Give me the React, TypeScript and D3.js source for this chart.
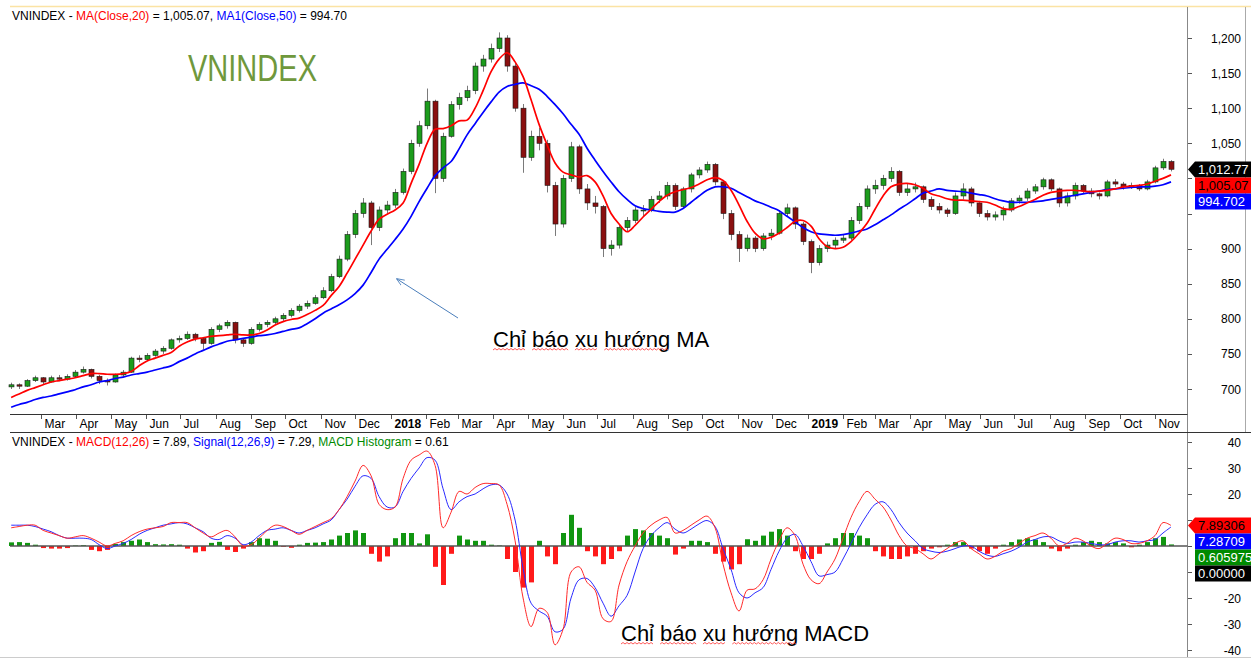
import React, { useRef, useEffect } from 'react';
import * as d3 from 'd3';

const WIDTH = 1251;
const HEIGHT = 667;

// weekly candles: [open, high, low, close]
const candles: [number, number, number, number][] = [
    [703, 709, 700, 706], [706, 708, 700, 704], [704, 714, 703, 712], [712, 719, 710, 716], [716, 717, 707, 710],
    [710, 719, 709, 716], [716, 720, 711, 714], [714, 721, 712, 718], [718, 727, 716, 724], [724, 732, 722, 728],
    [728, 729, 715, 718], [718, 720, 707, 712], [712, 715, 705, 710], [710, 722, 709, 720], [720, 727, 717, 724],
    [724, 746, 723, 744], [744, 748, 738, 742], [742, 751, 740, 748], [748, 757, 746, 754], [754, 761, 750, 758],
    [758, 772, 756, 770], [770, 776, 766, 772], [772, 782, 770, 778], [778, 780, 768, 772], [772, 774, 756, 765],
    [765, 788, 763, 785], [785, 793, 781, 790], [790, 798, 786, 795], [795, 796, 765, 770], [770, 772, 760, 765],
    [765, 788, 763, 785], [785, 795, 782, 792], [792, 798, 788, 795], [795, 803, 791, 800], [800, 808, 797, 805],
    [805, 815, 802, 812], [812, 821, 809, 818], [818, 826, 814, 822], [822, 834, 820, 830], [830, 845, 828, 840],
    [840, 864, 838, 860], [860, 890, 858, 885], [885, 925, 882, 920], [920, 955, 915, 950], [950, 972, 944, 965],
    [965, 968, 905, 930], [930, 960, 925, 955], [955, 968, 950, 962], [962, 985, 958, 980], [980, 1014, 977, 1010],
    [1010, 1055, 1006, 1050], [1050, 1082, 1045, 1075], [1075, 1128, 1070, 1110], [1110, 1112, 979, 1000], [1000, 1065, 995, 1060],
    [1060, 1110, 1058, 1105], [1105, 1122, 1098, 1115], [1115, 1132, 1110, 1125], [1125, 1165, 1120, 1160], [1160, 1176, 1152, 1170],
    [1170, 1192, 1165, 1185], [1185, 1208, 1180, 1200], [1200, 1204, 1152, 1160], [1160, 1165, 1095, 1100], [1100, 1106, 1008, 1030],
    [1030, 1068, 1025, 1060], [1060, 1072, 1040, 1050], [1050, 1055, 980, 990], [990, 995, 918, 935], [935, 1005, 930, 1000],
    [1000, 1052, 995, 1045], [1045, 1048, 978, 985], [985, 992, 955, 965], [965, 975, 950, 960], [960, 962, 888, 900],
    [900, 912, 890, 905], [905, 935, 900, 930], [930, 945, 925, 940], [940, 960, 936, 955], [955, 962, 946, 955],
    [955, 975, 952, 970], [970, 982, 965, 975], [975, 995, 970, 990], [990, 993, 955, 960], [960, 988, 958, 985],
    [985, 1008, 980, 1005], [1005, 1016, 1000, 1012], [1012, 1024, 1008, 1020], [1020, 1022, 990, 995], [995, 996, 942, 950],
    [950, 955, 912, 920], [920, 925, 881, 900], [900, 920, 896, 915], [915, 918, 895, 900], [900, 922, 897, 918],
    [918, 928, 912, 922], [922, 955, 920, 950], [950, 964, 945, 958], [958, 960, 928, 935], [935, 938, 905, 910],
    [910, 913, 865, 880], [880, 905, 876, 900], [900, 910, 895, 905], [905, 916, 900, 912], [912, 920, 908, 915],
    [915, 945, 912, 940], [940, 965, 935, 960], [960, 990, 956, 985], [985, 998, 978, 990], [990, 1005, 984, 1000],
    [1000, 1016, 995, 1010], [1010, 1012, 975, 980], [980, 992, 975, 985], [985, 994, 980, 988], [988, 990, 965, 970],
    [970, 974, 955, 960], [960, 965, 950, 955], [955, 958, 945, 950], [950, 980, 948, 975], [975, 993, 970, 985],
    [985, 988, 960, 965], [965, 968, 945, 950], [950, 955, 940, 945], [945, 953, 940, 948], [948, 960, 940, 955],
    [955, 972, 952, 968], [968, 976, 964, 972], [972, 986, 968, 982], [982, 992, 978, 988], [988, 1001, 984, 998],
    [998, 1000, 982, 985], [985, 987, 959, 965], [965, 980, 960, 975], [975, 994, 970, 990], [990, 992, 978, 982],
    [982, 986, 973, 978], [978, 980, 970, 975], [975, 998, 973, 995], [995, 999, 988, 992], [992, 995, 984, 988],
    [988, 994, 985, 990], [990, 992, 982, 985], [985, 998, 983, 995], [995, 1018, 993, 1015], [1015, 1028, 1012, 1024],
    [1024, 1026, 1010, 1013],
];

const ma20 = [
    688, 693, 698, 702, 706, 710, 712, 714, 716, 719,
    722, 722, 721, 721, 722, 725, 733, 740, 744, 748,
    752, 761, 767, 771, 773, 775, 776, 777, 778, 777,
    777, 779, 784, 791, 796, 799, 801, 806, 812, 819,
    833, 846, 865, 885, 905, 925, 942, 949, 955, 965,
    993, 1020, 1050, 1070, 1071, 1075, 1082, 1083, 1100, 1125,
    1152, 1170, 1179, 1166, 1145, 1112, 1077, 1048, 1022, 1009,
    1005, 1002, 1004, 995, 975, 950, 935, 924, 933, 945,
    956, 967, 976, 981, 984, 987, 992, 998, 1001, 997,
    983, 962, 939, 922, 914, 916, 922, 930, 939, 940,
    932, 914, 903, 900, 902, 910, 922, 936, 956, 975,
    988, 992, 993, 991, 986, 978, 975, 971, 969, 969,
    968, 967, 966, 962, 957, 956, 960, 965, 970, 976,
    980, 982, 983, 983, 982, 981, 982, 983, 985, 988,
    989, 990, 992, 996, 1000, 1005,
];

const ma50 = [
    674, 678, 681, 685, 688, 690, 693, 696, 699, 703,
    706, 710, 712, 715, 717, 720, 722, 724, 727, 730,
    733, 739, 744, 750, 755, 760, 764, 768, 770, 772,
    774, 776, 777, 779, 782, 785, 787, 793, 800, 808,
    814, 820, 827, 836, 848, 866, 885, 899, 913, 928,
    946, 967, 986, 1004, 1015, 1024, 1042, 1062, 1078, 1094,
    1109, 1123, 1131, 1134, 1136, 1132, 1127, 1117, 1105, 1092,
    1077, 1063, 1043, 1026, 1010, 995, 981, 970, 961, 957,
    955, 953, 952, 952, 957, 966, 975, 983, 988, 988,
    986, 980, 974, 968, 964, 959, 954, 946, 938, 930,
    924, 921, 920, 919, 920, 922, 925, 928, 934, 941,
    948, 956, 963, 971, 979, 982, 985, 983, 982, 981,
    979, 977, 975, 971, 968, 966, 966, 966, 967, 968,
    970, 972, 974, 976, 978, 980, 982, 984, 985, 986,
    987, 988, 988, 989, 991, 995,
];

const macd = [
    7, 7.5, 8, 8, 6, 5, 4, 3, 3.5, 4,
    3, 1.5, 0, 1, 2, 4, 5.5, 6.5, 7, 7.5,
    9, 9, 9, 7, 5, 3.5, 5, 6, 3.5, 0,
    0.5, 3, 6, 8, 7.5, 6, 4.5, 6, 7.5, 9,
    10.5, 14, 19, 25, 31, 27, 16, 14, 15, 26,
    33, 35, 36.5, 31, 7, 13, 21, 20, 22.5, 24,
    24, 23.5, 16, 2, -20, -31, -24, -25.5, -38, -32,
    -10, -8, -14, -17, -28, -29, -15, -6, 0, 5,
    8, 10, 11, 5, 6, 8, 10, 11.5, 7, -7,
    -18, -25, -17, -16.5, -13, -5, 2, 7, 4, -7,
    -13, -14.5, -10, -5, 3, 11, 17, 21, 18, 15,
    10, 4, 0, -1, -3, -5, -3, -1, 1, 2,
    -1, -3, -5, -4, -2, -1, 1, 3, 4, 5,
    3, 0, 1, 3, 2, 0, -1, 1, 3, 2.5,
    1, 1, 2, 4, 9, 7.9,
];

const signal = [
    8, 8, 8, 7.5, 6.5, 5.5, 4, 3, 3, 3,
    2.5, 0.5, -1, 0, 1, 2.5, 4.5, 6, 7, 8,
    8.5, 9, 8.5, 7, 5.5, 3, 2.5, 4, 3, 0.5,
    1.5, 4, 6, 6.5, 7, 6, 5, 6, 7, 8.5,
    10, 14, 18, 23, 27, 26, 19, 15, 15, 21,
    26, 30, 34, 33, 22, 14, 17, 19, 20, 22,
    23.5, 23.5, 20, 10, -8.6, -22, -25, -27, -33, -32,
    -20, -13, -12.5, -16, -22, -27, -23, -19, -10, -1,
    4, 7, 9, 6.5, 5, 6.5, 8.5, 9.8, 7.5, -1,
    -9, -18, -20, -18, -16, -9, -2, 3, 4.5, 0,
    -6, -11.5, -11, -10, -5, 1, 7, 12, 16, 17,
    14, 9, 5, 2, -1, -2, -2.5, -2, -1, 0,
    0, -2, -3.5, -4, -3, -2, -0.5, 1.5, 2.5, 3.5,
    3.5, 2, 1, 1.5, 1.5, 1, 0.5, 0.5, 1.5, 2,
    2, 1.5, 2, 2.5, 5, 7.3,
];

const histogram = [
    1.4, 1.5, 1.2, 0.5, -0.8, -1, -1, -0.8, 0.2, 0.3,
    -1.5, -2, -1.5, 0.8, 1.5, 2, 2.5, 1.5, 0.7, 0.6,
    0.7, 0.5, -1, -2.5, -2, 1.2, 1.6, -1.5, -2.3, -1,
    1.5, 3, 2.8, 2, -0.3, -0.7, 0.5, 1.2, 1.3, 1.5,
    2.5, 4, 5, 6, 5, -3, -6, -4, 3, 5,
    5, 1, 4.5, -8, -15, -3, 4, 2.5, 2, 2,
    0.5, 0.2, -5, -10, -16, -14, 2, -4, -7, 5,
    12, 7, -2, -4, -7, -5, -2, 4, 6.5, 6,
    5, 4, 3, -3.3, -1, 2, 2, 1.5, -3, -6,
    -9, -7, 2.6, 2, 4, 5.5, 6.5, 4, -2, -5,
    -5, -3, 1, 3, 5, 5, 4, 3, -2, -4,
    -5, -5, -4, -3, -2, -1, -0.5, 0.5, 1.5, 1.5,
    -1, -2, -3, -1, 0.5, 1.5, 2.5, 3, 2.5, 1.5,
    -1, -2, -1, 0.5, 1.5, 2, 1.5, 1, 1.5, 1,
    -0.5, 0.5, 1.5, 3, 3.5, 0.6,
];

const priceTicks = [700, 750, 800, 850, 900, 950, 1000, 1050, 1100, 1150, 1200];
const macdTicks = [-40, -30, -20, -10, 0, 10, 20, 30, 40];

// last values shown in the legends and the right-hand tags
const lastClose = 1012.77;
const lastMa20 = 1005.07;
const lastMa50 = 994.702;
const lastMacd = 7.89306;
const lastSignal = 7.28709;
const lastHist = 0.605975;

const FONT = '"Liberation Sans", Arial, sans-serif';

export default function App() {
    const svgRef = useRef<SVGSVGElement>(null);

    useEffect(() => {
        if (!svgRef.current) return;
        const svg = d3.select(svgRef.current);
        svg.selectAll('*').remove();

        const dates = d3.timeFriday.range(new Date(2017, 1, 3), new Date(2019, 10, 16)).slice(0, candles.length);
        const x = d3.scaleTime().domain([new Date(2017, 1, 2), new Date(2019, 10, 29)]).range([10, 1187]);
        const yP = d3.scaleLinear().domain([700, 1200]).range([389, 38]);
        const yM = d3.scaleLinear().domain([-40, 40]).range([650, 442]);
        const axisX = 1187.5;
        const tagH = 16;

        // frame
        svg.append('line').attr('x1', 10).attr('x2', WIDTH).attr('y1', 6.5).attr('y2', 6.5)
            .attr('stroke', '#fbe3a4').attr('stroke-width', 1.5);
        svg.append('line').attr('x1', axisX).attr('x2', axisX).attr('y1', 7).attr('y2', 657)
            .attr('stroke', '#888');
        svg.append('line').attr('x1', 1245.5).attr('x2', 1245.5).attr('y1', 7).attr('y2', 432)
            .attr('stroke', '#aaa');
        svg.append('line').attr('x1', 0).attr('x2', WIDTH).attr('y1', 657.5).attr('y2', 657.5)
            .attr('stroke', '#ccc');

        // legend of the price panel
        const f2 = d3.format(',.2f');
        const leg1 = svg.append('text').attr('x', 12).attr('y', 20).attr('font-size', 12);
        leg1.append('tspan').text('VNINDEX - ');
        leg1.append('tspan').attr('fill', '#ff0000').text('MA(Close,20)');
        leg1.append('tspan').text(` = ${f2(lastMa20)}, `);
        leg1.append('tspan').attr('fill', '#0000ff').text('MA1(Close,50)');
        leg1.append('tspan').text(` = ${f2(lastMa50)}`);

        svg.append('text').attr('x', 188).attr('y', 81).attr('font-size', 37)
            .attr('fill', '#6f983c').attr('textLength', 129).attr('lengthAdjust', 'spacingAndGlyphs')
            .text('VNINDEX');

        // price panel
        svg.append('clipPath').attr('id', 'clip-price')
            .append('rect').attr('x', 6).attr('y', 8).attr('width', 1181).attr('height', 406);
        const gp = svg.append('g').attr('clip-path', 'url(#clip-price)');
        const bw = 5;

        gp.selectAll('line.wick').data(candles).join('line')
            .attr('class', 'wick')
            .attr('x1', (_d, i) => Math.round(x(dates[i])) + 0.5)
            .attr('x2', (_d, i) => Math.round(x(dates[i])) + 0.5)
            .attr('y1', d => yP(d[1]))
            .attr('y2', d => yP(d[2]))
            .attr('stroke', '#7a7a7a');

        gp.selectAll('rect.body').data(candles).join('rect')
            .attr('class', 'body')
            .attr('x', (_d, i) => Math.round(x(dates[i])) - (bw - 1) / 2)
            .attr('y', d => yP(Math.max(d[0], d[3])))
            .attr('width', bw)
            .attr('height', d => Math.max(1, Math.abs(yP(d[0]) - yP(d[3]))))
            .attr('fill', d => (d[3] >= d[0] ? '#1c9c1c' : '#8a1010'))
            .attr('stroke', '#1a1a1a')
            .attr('stroke-width', 0.6);

        const priceLine = d3.line<number>()
            .x((_d, i) => x(dates[i]))
            .y(d => yP(d))
            .curve(d3.curveCatmullRom);

        gp.append('path').datum(ma50).attr('d', priceLine)
            .attr('fill', 'none').attr('stroke', '#0000ff').attr('stroke-width', 1.7);
        gp.append('path').datum(ma20).attr('d', priceLine)
            .attr('fill', 'none').attr('stroke', '#ff0000').attr('stroke-width', 1.7);

        // tags stack downwards from the last close / last MACD
        const yc0 = yP(lastClose);
        const ym0 = yM(lastMacd);
        const priceTagSpan: [number, number] = [yc0 - tagH / 2, yc0 + 2.5 * tagH];
        const macdTagSpan: [number, number] = [ym0 - tagH / 2, ym0 + 3.5 * tagH];
        const hidden = (yy: number, span: [number, number]) => yy + 5 > span[0] && yy - 5 < span[1];

        // right axis of the price panel
        const fInt = d3.format(',');
        priceTicks.forEach(t => {
            svg.append('line').attr('x1', 1188).attr('x2', 1192)
                .attr('y1', Math.round(yP(t)) + 0.5).attr('y2', Math.round(yP(t)) + 0.5).attr('stroke', '#555');
            if (hidden(yP(t), priceTagSpan)) return;
            svg.append('text').attr('x', 1241).attr('y', yP(t) + 4.5)
                .attr('text-anchor', 'end').attr('font-size', 12).text(fInt(t));
        });

        // month band
        svg.append('line').attr('x1', 10).attr('x2', axisX).attr('y1', 414.5).attr('y2', 414.5).attr('stroke', '#333');
        svg.append('line').attr('x1', 10).attr('x2', WIDTH).attr('y1', 432.5).attr('y2', 432.5).attr('stroke', '#333');
        const months = d3.timeMonth.range(x.domain()[0], x.domain()[1]).filter(m => x(m) < 1180);
        months.forEach(m => {
            const mx = Math.round(x(m)) + 0.5;
            svg.append('line').attr('x1', mx).attr('x2', mx).attr('y1', 415).attr('y2', 419).attr('stroke', '#555');
            const jan = m.getMonth() === 0;
            svg.append('text').attr('x', mx + 3).attr('y', 428).attr('font-size', 12)
                .attr('font-weight', jan ? 'bold' : 'normal')
                .text(jan ? d3.timeFormat('%Y')(m) : d3.timeFormat('%b')(m));
        });

        // MACD legend
        const leg2 = svg.append('text').attr('x', 12).attr('y', 446).attr('font-size', 12);
        leg2.append('tspan').text('VNINDEX - ');
        leg2.append('tspan').attr('fill', '#ff0000').text('MACD(12,26)');
        leg2.append('tspan').text(` = ${f2(lastMacd)}, `);
        leg2.append('tspan').attr('fill', '#0000ff').text('Signal(12,26,9)');
        leg2.append('tspan').text(` = ${f2(lastSignal)}, `);
        leg2.append('tspan').attr('fill', '#008a00').text('MACD Histogram');
        leg2.append('tspan').text(` = ${f2(lastHist)}`);

        // MACD panel
        const gm = svg.append('g');
        gm.selectAll('rect.hist').data(histogram).join('rect')
            .attr('class', 'hist')
            .attr('x', (_d, i) => Math.round(x(dates[i])) - 2)
            .attr('y', d => Math.min(yM(d), yM(0)))
            .attr('width', 5)
            .attr('height', d => Math.abs(yM(d) - yM(0)))
            .attr('fill', d => (d >= 0 ? '#119611' : '#ff1a1a'));

        gm.append('line').attr('x1', 10).attr('x2', axisX).attr('y1', yM(0)).attr('y2', yM(0))
            .attr('stroke', '#555').attr('stroke-width', 1.5);

        const macdLine = d3.line<number>()
            .x((_d, i) => x(dates[i]))
            .y(d => yM(d))
            .curve(d3.curveCatmullRom);
        gm.append('path').datum(signal).attr('d', macdLine)
            .attr('fill', 'none').attr('stroke', '#2a2aff').attr('stroke-width', 1);
        gm.append('path').datum(macd).attr('d', macdLine)
            .attr('fill', 'none').attr('stroke', '#ff2a2a').attr('stroke-width', 1);

        macdTicks.forEach(t => {
            svg.append('line').attr('x1', 1188).attr('x2', 1192)
                .attr('y1', Math.round(yM(t)) + 0.5).attr('y2', Math.round(yM(t)) + 0.5).attr('stroke', '#555');
            if (hidden(yM(t), macdTagSpan)) return;
            svg.append('text').attr('x', 1241).attr('y', yM(t) + 4.5)
                .attr('text-anchor', 'end').attr('font-size', 12).text(String(t));
        });

        // value tags on the right axis
        const tag = (yc: number, label: string, fill: string, color: string, arrow: boolean) => {
            const h = tagH / 2;
            const pts = arrow
                ? [[1188, yc], [1195, yc - h], [WIDTH, yc - h], [WIDTH, yc + h], [1195, yc + h]]
                : [[1195, yc - h], [WIDTH, yc - h], [WIDTH, yc + h], [1195, yc + h]];
            svg.append('polygon').attr('points', pts.map(p => p.join(',')).join(' ')).attr('fill', fill);
            svg.append('text').attr('x', 1198).attr('y', yc + 4.5).attr('font-size', 13)
                .attr('fill', color).text(label);
        };
        tag(yc0, f2(lastClose), '#000', '#fff', true);
        tag(yc0 + tagH, f2(lastMa20), '#ff0000', '#000', false);
        tag(yc0 + 2 * tagH, d3.format('.3f')(lastMa50), '#0000ff', '#fff', false);

        tag(ym0, d3.format('.5f')(lastMacd), '#ff0000', '#000', true);
        tag(ym0 + tagH, d3.format('.5f')(lastSignal), '#0000ff', '#fff', false);
        tag(ym0 + 2 * tagH, d3.format('.6f')(lastHist), '#008a00', '#fff', false);
        tag(ym0 + 3 * tagH, d3.format('.5f')(0), '#000', '#fff', false);

        // annotations with spell-check underlines
        const note = (tx: number, ty: number, words: string[], marked: number) => {
            const t = svg.append('text').attr('x', tx).attr('y', ty).attr('font-size', 22)
                .attr('fill', '#000').text(words.join(' '));
            const node = t.node() as SVGTextElement;
            let idx = 0;
            words.forEach((w, wi) => {
                if (wi < marked) {
                    const x0 = node.getStartPositionOfChar(idx).x;
                    const x1 = node.getEndPositionOfChar(idx + w.length - 1).x;
                    let d = `M${x0},${ty + 3}`;
                    let up = true;
                    for (let xx = x0 + 2; xx <= x1; xx += 2) {
                        d += `L${xx},${ty + (up ? 1.5 : 3)}`;
                        up = !up;
                    }
                    svg.append('path').attr('d', d).attr('fill', 'none')
                        .attr('stroke', '#ff3030').attr('stroke-width', 0.8);
                }
                idx += w.length + 1;
            });
        };
        note(493, 347, ['Chỉ', 'báo', 'xu', 'hướng', 'MA'], 4);
        note(621, 641, ['Chỉ', 'báo', 'xu', 'hướng', 'MACD'], 4);

        // pointer arrow
        const defs = svg.append('defs');
        defs.append('marker').attr('id', 'arr').attr('viewBox', '0 0 10 10')
            .attr('refX', 9).attr('refY', 5).attr('markerWidth', 8).attr('markerHeight', 8)
            .attr('orient', 'auto')
            .append('path').attr('d', 'M0,1 L10,5 L0,9').attr('fill', 'none').attr('stroke', '#4a7ebb');
        svg.append('line').attr('x1', 458).attr('y1', 318).attr('x2', 397).attr('y2', 279)
            .attr('stroke', '#4a7ebb').attr('stroke-width', 1).attr('marker-end', 'url(#arr)');
    }, []);

    return (
        <svg
            ref={svgRef}
            width={WIDTH}
            height={HEIGHT}
            style={{ position: 'absolute', left: 0, top: 0, background: '#fff', fontFamily: FONT }}
        />
    );
}
